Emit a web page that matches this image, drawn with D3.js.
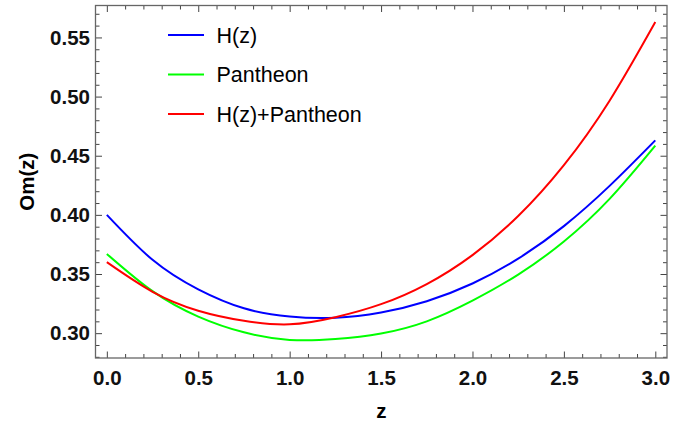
<!DOCTYPE html>
<html>
<head>
<meta charset="utf-8">
<script src="https://cdn.jsdelivr.net/npm/d3@7"></script>
<style>
  body { margin: 0; background: #fff; }
  text { font-family: "Liberation Sans", Arial, sans-serif; }
</style>
</head>
<body>
<div class="chart"></div>
<script>
// values
var zValues = [0, 0.25, 0.5, 0.75, 1.0, 1.25, 1.5, 1.75, 2.0, 2.25, 2.5, 2.75, 3.0]
var hzValues = [0.400, 0.362, 0.337, 0.321, 0.314, 0.313, 0.3175, 0.327, 0.342, 0.363, 0.3905, 0.4245, 0.463]
var pantheonValues = [0.367, 0.3355, 0.314, 0.3007, 0.2943, 0.295, 0.2997, 0.310, 0.3275, 0.3495, 0.3775, 0.4135, 0.4585]
var combinedValues = [0.360, 0.335, 0.319, 0.3105, 0.3075, 0.3135, 0.3245, 0.3415, 0.366, 0.399, 0.442, 0.4965, 0.563]
var seriesNames = ["H(z)", "Pantheon", "H(z)+Pantheon"]
var seriesColors = ["#0000ff", "#00ff00", "#ff0000"]
var xTickLabels = ["0.0", "0.5", "1.0", "1.5", "2.0", "2.5", "3.0"]
var yTickLabels = ["0.30", "0.35", "0.40", "0.45", "0.50", "0.55"]

document.addEventListener("DOMContentLoaded", draw)

function draw(){
  var width = 697,
      height = 424,
      left = 95.5, right = 667, top = 5.5, bottom = 358

  var svg = d3.select(".chart").append("svg")
    .attr("width", width)
    .attr("height", height)

  var x = d3.scaleLinear().domain([-0.062, 3.064]).range([left, right]),
      y = d3.scaleLinear().domain([0.279, 0.577]).range([bottom, top])

  var xMajor = xTickLabels.map(Number),
      yMajor = yTickLabels.map(Number),
      xMinor = d3.range(0, 31).map(function(i){ return i / 10 }).filter(function(v){ return xMajor.indexOf(v) < 0 }),
      yMinor = d3.range(28, 58).map(function(i){ return i / 100 }).filter(function(v){
        return y(v) > top && y(v) < bottom && yMajor.indexOf(v) < 0 })

  function styleAxis(g){
    g.select(".domain").remove()
    g.selectAll("line").attr("stroke", "#444").attr("stroke-width", 1)
    g.selectAll("text")
      .attr("font-family", "'Liberation Sans', Arial, sans-serif")
      .attr("font-size", "20.5px")
      .attr("font-weight", "bold")
      .attr("fill", "#111")
  }

  // bottom
  svg.append("g").attr("transform", "translate(0," + bottom + ")")
    .call(d3.axisBottom(x).tickValues(xMajor).tickSize(-6.5).tickPadding(12.5)
      .tickFormat(function(d, i){ return xTickLabels[i] }))
    .call(styleAxis)
  svg.append("g").attr("transform", "translate(0," + bottom + ")")
    .call(d3.axisBottom(x).tickValues(xMinor).tickSize(-4).tickFormat(""))
    .call(styleAxis)
  // top
  svg.append("g").attr("transform", "translate(0," + top + ")")
    .call(d3.axisTop(x).tickValues(xMajor).tickSize(-6.5).tickFormat(""))
    .call(styleAxis)
  svg.append("g").attr("transform", "translate(0," + top + ")")
    .call(d3.axisTop(x).tickValues(xMinor).tickSize(-4).tickFormat(""))
    .call(styleAxis)
  // left
  svg.append("g").attr("transform", "translate(" + left + ",0)")
    .call(d3.axisLeft(y).tickValues(yMajor).tickSize(-6.5).tickPadding(5.5)
      .tickFormat(function(d, i){ return yTickLabels[i] }))
    .call(styleAxis)
  svg.append("g").attr("transform", "translate(" + left + ",0)")
    .call(d3.axisLeft(y).tickValues(yMinor).tickSize(-4).tickFormat(""))
    .call(styleAxis)
  // right
  svg.append("g").attr("transform", "translate(" + right + ",0)")
    .call(d3.axisRight(y).tickValues(yMajor).tickSize(-6.5).tickFormat(""))
    .call(styleAxis)
  svg.append("g").attr("transform", "translate(" + right + ",0)")
    .call(d3.axisRight(y).tickValues(yMinor).tickSize(-4).tickFormat(""))
    .call(styleAxis)

  // frame
  svg.append("rect")
    .attr("x", left).attr("y", top)
    .attr("width", right - left).attr("height", bottom - top)
    .attr("fill", "none").attr("stroke", "#666").attr("stroke-width", 1.3)

  var series = [hzValues, pantheonValues, combinedValues]
  var line = d3.line()
    .x(function(d, i){ return x(zValues[i]) })
    .y(function(d){ return y(d) })
    .curve(d3.curveNatural)

  svg.append("g").selectAll("path")
    .data(series)
    .enter()
    .append("path")
    .attr("d", line)
    .attr("fill", "none")
    .attr("stroke", function(d, i){ return seriesColors[i] })
    .attr("stroke-width", 2)

  // legend
  var legend = svg.append("g").selectAll("g")
    .data(seriesNames)
    .enter()
    .append("g")
    .attr("transform", function(d, i){ return "translate(168," + (35 + i * 39.5) + ")" })
  legend.append("line")
    .attr("x1", 0).attr("x2", 36)
    .attr("stroke", function(d, i){ return seriesColors[i] })
    .attr("stroke-width", 2)
  legend.append("text")
    .attr("x", 48.5).attr("y", 7.5)
    .attr("font-size", "21.5px")
    .attr("fill", "#000")
    .text(function(d){ return d })

  // axis titles
  svg.append("text")
    .attr("x", (left + right) / 2).attr("y", 418)
    .attr("text-anchor", "middle")
    .attr("font-size", "20.5px").attr("font-weight", "bold")
    .text("z")
  svg.append("text")
    .attr("transform", "translate(34," + ((top + bottom) / 2) + ") rotate(-90)")
    .attr("text-anchor", "middle")
    .attr("font-size", "20.5px").attr("font-weight", "bold")
    .text("Om(z)")
}
</script>
</body>
</html>
